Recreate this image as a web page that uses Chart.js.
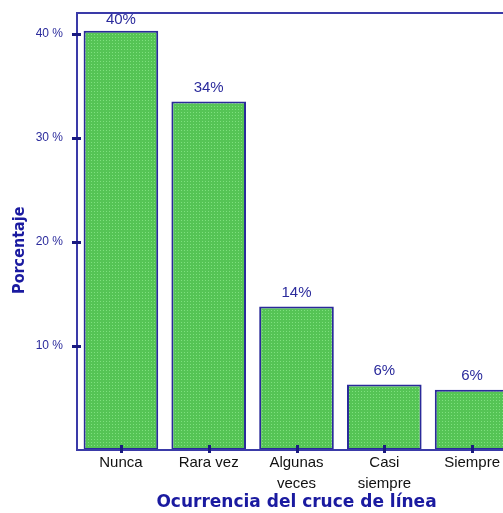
<!DOCTYPE html>
<html>
<head>
<meta charset="utf-8">
<script src="https://cdn.jsdelivr.net/npm/chart.js@4/dist/chart.umd.min.js"></script>
<style>
  html, body { margin: 0; padding: 0; background: #fff; overflow: hidden; }
  #wrap { width: 503px; height: 513px; overflow: hidden; }
</style>
</head>
<body>
<div id="wrap"><canvas id="chart" width="516" height="513"></canvas></div>
<script>
// Categories and values
const categories = ["Nunca", "Rara vez", ["Algunas", "veces"], ["Casi", "siempre"], "Siempre"];
const percentages = [40.3, 33.5, 13.8, 6.3, 5.8];
const valueLabels = ["40%", "34%", "14%", "6%", "6%"];
const yTicks = [10, 20, 30, 40];
const yTitle = "Porcentaje";
const xTitle = "Ocurrencia del cruce de línea";

const navy = "#2b2b9c";
const titleBlue = "#1a1aa0";

// Dotted green fill like the original
function makePattern() {
  const c = document.createElement("canvas");
  c.width = 3;
  c.height = 3;
  const g = c.getContext("2d");
  g.fillStyle = "#55c455";
  g.fillRect(0, 0, 3, 3);
  g.fillStyle = "#7ee07e";
  g.fillRect(1, 1, 1, 1);
  return g.createPattern(c, "repeat");
}

// Draws the frame, tick marks, y title and the labels above bars
const decorations = {
  id: "decorations",
  afterDatasetsDraw(chart) {
    const ctx = chart.ctx;
    const area = chart.chartArea;
    const x = chart.scales.x;
    const y = chart.scales.y;
    ctx.save();
    ctx.strokeStyle = "#3a3aa8";
    ctx.lineWidth = 2;
    ctx.strokeRect(area.left, area.top, area.right - area.left, area.bottom - area.top);

    // y tick marks crossing the axis
    ctx.strokeStyle = "#1a1a80";
    ctx.lineWidth = 3;
    yTicks.forEach(v => {
      const py = Math.round(y.getPixelForValue(v)) + 0.5;
      ctx.beginPath();
      ctx.moveTo(area.left - 5, py);
      ctx.lineTo(area.left + 4, py);
      ctx.stroke();
    });
    // x tick marks at category centres
    categories.forEach((c, i) => {
      const px = Math.round(x.getPixelForValue(i)) + 0.5;
      ctx.beginPath();
      ctx.moveTo(px, area.bottom - 5);
      ctx.lineTo(px, area.bottom + 3);
      ctx.stroke();
    });

    // value labels
    ctx.fillStyle = navy;
    ctx.font = "15px 'Liberation Sans', Arial, sans-serif";
    ctx.textAlign = "center";
    ctx.textBaseline = "middle";
    const meta = chart.getDatasetMeta(0);
    meta.data.forEach((bar, i) => {
      const ly = Math.max(bar.y - 14, area.top + 7);
      ctx.fillText(valueLabels[i], bar.x, ly);
    });

    // rotated y title, sitting a little below the middle as in the original
    ctx.fillStyle = titleBlue;
    ctx.font = "bold 16px 'DejaVu Sans Condensed', 'DejaVu Sans', sans-serif";
    ctx.translate(20, y.getPixelForValue(19.2));
    ctx.rotate(-Math.PI / 2);
    ctx.fillText(yTitle, 0, 0);
    ctx.restore();
  }
};

new Chart(document.getElementById("chart"), {
  type: "bar",
  data: {
    labels: categories,
    datasets: [{
      data: percentages,
      backgroundColor: makePattern(),
      borderColor: "#2a2a9a",
      borderWidth: 2,
      borderSkipped: false,
      categoryPercentage: 1.0,
      barPercentage: 0.85
    }]
  },
  options: {
    responsive: false,
    animation: false,
    layout: { padding: { top: 13, left: 0, right: 0, bottom: 0 } },
    plugins: {
      legend: { display: false },
      tooltip: { enabled: false }
    },
    scales: {
      x: {
        grid: { display: false, drawTicks: false },
        border: { display: false },
        ticks: {
          color: "#111",
          font: { family: "'Liberation Sans', Arial, sans-serif", size: 15, lineHeight: 1.4 },
          padding: 2,
          maxRotation: 0,
          autoSkip: false
        },
        title: {
          display: true,
          text: xTitle,
          color: titleBlue,
          font: { family: "'DejaVu Sans', Verdana, sans-serif", size: 17, weight: "bold" },
          padding: { top: 0, bottom: 0 }
        },
        afterFit(scale) {
          scale.height = 63;
          scale.paddingLeft = 0;
          scale.paddingRight = 0;
        }
      },
      y: {
        min: 0,
        max: 42,
        afterBuildTicks(scale) {
          scale.ticks = yTicks.map(v => ({ value: v }));
        },
        grid: { display: false, drawTicks: false },
        border: { display: false },
        ticks: {
          color: navy,
          font: { family: "'Liberation Sans Narrow', 'Liberation Sans', Arial, sans-serif", size: 12 },
          padding: 14,
          callback: v => v + " %"
        },
        title: { display: false },
        afterFit(scale) {
          scale.width = 77;
          scale.paddingTop = 0;
          scale.paddingBottom = 0;
        }
      }
    }
  },
  plugins: [decorations]
});
</script>
</body>
</html>
